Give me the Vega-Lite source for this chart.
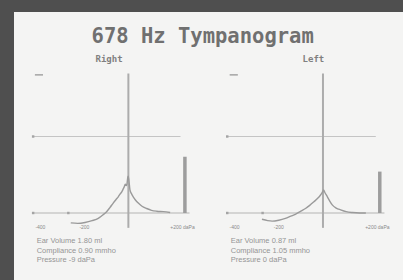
{
  "$schema": "https://vega.github.io/schema/vega-lite/v6.json",
  "background": "#4f4f4f",
  "padding": {"left": 14, "top": 12, "right": 0, "bottom": 0},
  "spacing": 0,
  "config": {
    "view": {"fill": "#f4f4f3", "stroke": null},
    "concat": {"spacing": 0},
    "font": "Liberation Sans"
  },
  "datasets": {
    "ears": [
      {"ear": "Right", "label": "Right", "volume": 1.25, "lines": ["Ear Volume 1.80 ml", "Compliance 0.90 mmho", "Pressure -9 daPa"]},
      {"ear": "Left", "label": "Left", "volume": 0.92, "lines": ["Ear Volume 0.87 ml", "Compliance 1.05 mmho", "Pressure 0 daPa"]}
    ],
    "curves": [
      {"ear": "Right", "pressure": -262, "compliance": -0.22},
      {"ear": "Right", "pressure": -230, "compliance": -0.23},
      {"ear": "Right", "pressure": -197, "compliance": -0.21},
      {"ear": "Right", "pressure": -165, "compliance": -0.17},
      {"ear": "Right", "pressure": -137, "compliance": -0.12},
      {"ear": "Right", "pressure": -115, "compliance": -0.04},
      {"ear": "Right", "pressure": -99, "compliance": 0.03},
      {"ear": "Right", "pressure": -84, "compliance": 0.12},
      {"ear": "Right", "pressure": -69, "compliance": 0.22},
      {"ear": "Right", "pressure": -56, "compliance": 0.3},
      {"ear": "Right", "pressure": -46, "compliance": 0.36},
      {"ear": "Right", "pressure": -38, "compliance": 0.42},
      {"ear": "Right", "pressure": -30, "compliance": 0.47},
      {"ear": "Right", "pressure": -24, "compliance": 0.53},
      {"ear": "Right", "pressure": -19, "compliance": 0.58},
      {"ear": "Right", "pressure": -14, "compliance": 0.64},
      {"ear": "Right", "pressure": -10, "compliance": 0.61},
      {"ear": "Right", "pressure": -7, "compliance": 0.63},
      {"ear": "Right", "pressure": -3, "compliance": 0.78},
      {"ear": "Right", "pressure": -1, "compliance": 0.82},
      {"ear": "Right", "pressure": 3, "compliance": 0.7},
      {"ear": "Right", "pressure": 7, "compliance": 0.52},
      {"ear": "Right", "pressure": 14, "compliance": 0.43},
      {"ear": "Right", "pressure": 22, "compliance": 0.36},
      {"ear": "Right", "pressure": 32, "compliance": 0.29},
      {"ear": "Right", "pressure": 45, "compliance": 0.22},
      {"ear": "Right", "pressure": 62, "compliance": 0.15},
      {"ear": "Right", "pressure": 83, "compliance": 0.1},
      {"ear": "Right", "pressure": 105, "compliance": 0.06},
      {"ear": "Right", "pressure": 129, "compliance": 0.04},
      {"ear": "Right", "pressure": 159, "compliance": 0.03},
      {"ear": "Right", "pressure": 190, "compliance": 0.01},
      {"ear": "Left", "pressure": -276, "compliance": -0.14},
      {"ear": "Left", "pressure": -250, "compliance": -0.17},
      {"ear": "Left", "pressure": -230, "compliance": -0.18},
      {"ear": "Left", "pressure": -200, "compliance": -0.16},
      {"ear": "Left", "pressure": -170, "compliance": -0.12},
      {"ear": "Left", "pressure": -145, "compliance": -0.07},
      {"ear": "Left", "pressure": -125, "compliance": -0.03},
      {"ear": "Left", "pressure": -100, "compliance": 0.04},
      {"ear": "Left", "pressure": -79, "compliance": 0.1},
      {"ear": "Left", "pressure": -60, "compliance": 0.17},
      {"ear": "Left", "pressure": -41, "compliance": 0.25},
      {"ear": "Left", "pressure": -25, "compliance": 0.32},
      {"ear": "Left", "pressure": -11, "compliance": 0.4},
      {"ear": "Left", "pressure": -3, "compliance": 0.46},
      {"ear": "Left", "pressure": 3, "compliance": 0.51},
      {"ear": "Left", "pressure": 8, "compliance": 0.46},
      {"ear": "Left", "pressure": 20, "compliance": 0.36},
      {"ear": "Left", "pressure": 30, "compliance": 0.27},
      {"ear": "Left", "pressure": 42, "compliance": 0.18},
      {"ear": "Left", "pressure": 60, "compliance": 0.11},
      {"ear": "Left", "pressure": 80, "compliance": 0.07},
      {"ear": "Left", "pressure": 105, "compliance": 0.03},
      {"ear": "Left", "pressure": 133, "compliance": 0.01},
      {"ear": "Left", "pressure": 165, "compliance": 0.0},
      {"ear": "Left", "pressure": 194, "compliance": 0.0}
    ],
    "markers": [
      {"pressure": -433, "compliance": 1.7},
      {"pressure": -433, "compliance": 0},
      {"pressure": -273, "compliance": 0}
    ],
    "ticks": [
      {"tick": -400, "label": "-400"},
      {"tick": -200, "label": "-200"},
      {"tick": 200, "label": "+200 daPa"}
    ]
  },
  "vconcat": [
    {
      "width": 389,
      "height": 40,
      "data": {"values": [{"title": "678 Hz Tympanogram"}]},
      "mark": {"type": "text", "font": "DejaVu Sans Mono", "fontWeight": "bold", "fontSize": 20.5, "color": "#707070", "baseline": "alphabetic", "align": "center"},
      "encoding": {
        "x": {"datum": -0.03, "type": "quantitative", "axis": null, "scale": {"domain": [-1, 1], "nice": false, "zero": false}},
        "y": {"datum": 9, "type": "quantitative", "axis": null, "scale": {"domain": [0, 40], "nice": false, "zero": false}},
        "text": {"field": "title", "type": "nominal"}
      }
    },
    {
      "spacing": 0,
      "hconcat": [
        {
          "width": 194,
          "height": 228,
          "data": {"name": "ears"},
          "transform": [{"filter": "datum.ear === 'Right'"}],
          "layer": [
            {"mark": {"type": "rule", "color": "#c4c4c4", "strokeWidth": 1}, "encoding": {"x": {"datum": -433, "type": "quantitative", "axis": null, "scale": {"domain": [-520, 362], "nice": false, "zero": false}}, "x2": {"datum": 237}, "y": {"datum": 1.7, "type": "quantitative", "axis": null, "scale": {"domain": [-1.489, 3.578], "nice": false, "zero": false}}}},
            {"mark": {"type": "rule", "color": "#b4b4b4", "strokeWidth": 1.2}, "encoding": {"x": {"datum": -433, "type": "quantitative", "axis": null, "scale": {"domain": [-520, 362], "nice": false, "zero": false}}, "x2": {"datum": 278}, "y": {"datum": 0, "type": "quantitative", "axis": null, "scale": {"domain": [-1.489, 3.578], "nice": false, "zero": false}}}},
            {"mark": {"type": "rule", "color": "#a4a4a4", "strokeWidth": 1.5}, "encoding": {"x": {"datum": -425, "type": "quantitative", "axis": null, "scale": {"domain": [-520, 362], "nice": false, "zero": false}}, "x2": {"datum": -388}, "y": {"datum": 3.07, "type": "quantitative", "axis": null, "scale": {"domain": [-1.489, 3.578], "nice": false, "zero": false}}}},
            {"mark": {"type": "rule", "color": "#acacac", "strokeWidth": 2}, "encoding": {"x": {"datum": 0, "type": "quantitative", "axis": null, "scale": {"domain": [-520, 362], "nice": false, "zero": false}}, "y": {"datum": -0.33, "type": "quantitative", "axis": null, "scale": {"domain": [-1.489, 3.578], "nice": false, "zero": false}}, "y2": {"datum": 3.1}}},
            {"data": {"name": "markers"}, "mark": {"type": "point", "shape": "square", "filled": true, "color": "#a4a4a4", "size": 6, "opacity": 1}, "encoding": {"x": {"field": "pressure", "type": "quantitative", "axis": null, "scale": {"domain": [-520, 362], "nice": false, "zero": false}}, "y": {"field": "compliance", "type": "quantitative", "axis": null, "scale": {"domain": [-1.489, 3.578], "nice": false, "zero": false}}}},
            {"mark": {"type": "rule", "color": "#9d9d9d", "strokeWidth": 3.5}, "encoding": {"x": {"datum": 257, "type": "quantitative", "axis": null, "scale": {"domain": [-520, 362], "nice": false, "zero": false}}, "y": {"field": "volume", "type": "quantitative", "axis": null, "scale": {"domain": [-1.489, 3.578], "nice": false, "zero": false}}, "y2": {"datum": 0}}},
            {"data": {"name": "curves"}, "transform": [{"filter": "datum.ear === 'Right'"}], "mark": {"type": "line", "color": "#9a9a9a", "strokeWidth": 1.4, "interpolate": "monotone"}, "encoding": {"x": {"field": "pressure", "type": "quantitative", "axis": null, "scale": {"domain": [-520, 362], "nice": false, "zero": false}}, "y": {"field": "compliance", "type": "quantitative", "axis": null, "scale": {"domain": [-1.489, 3.578], "nice": false, "zero": false}}}},
            {"data": {"name": "ticks"}, "transform": [{"filter": "datum.tick < 0"}], "mark": {"type": "text", "fontSize": 5, "color": "#8a8a8a", "align": "center", "baseline": "middle"}, "encoding": {"x": {"field": "tick", "type": "quantitative", "axis": null, "scale": {"domain": [-520, 362], "nice": false, "zero": false}}, "y": {"datum": -0.31, "type": "quantitative", "axis": null, "scale": {"domain": [-1.489, 3.578], "nice": false, "zero": false}}, "text": {"field": "label", "type": "nominal"}}},
            {"data": {"name": "ticks"}, "transform": [{"filter": "datum.tick > 0"}], "mark": {"type": "text", "fontSize": 5, "color": "#8a8a8a", "align": "left", "baseline": "middle", "dx": -2}, "encoding": {"x": {"field": "tick", "type": "quantitative", "axis": null, "scale": {"domain": [-520, 362], "nice": false, "zero": false}}, "y": {"datum": -0.31, "type": "quantitative", "axis": null, "scale": {"domain": [-1.489, 3.578], "nice": false, "zero": false}}, "text": {"field": "label", "type": "nominal"}}},
            {"mark": {"type": "text", "fontSize": 7.5, "color": "#959595", "align": "left", "baseline": "top", "lineHeight": 9.5}, "encoding": {"x": {"datum": -417, "type": "quantitative", "axis": null, "scale": {"domain": [-520, 362], "nice": false, "zero": false}}, "y": {"datum": -0.544, "type": "quantitative", "axis": null, "scale": {"domain": [-1.489, 3.578], "nice": false, "zero": false}}, "text": {"field": "lines", "type": "nominal"}}},
            {"mark": {"type": "text", "font": "DejaVu Sans Mono", "fontWeight": "bold", "fontSize": 9, "color": "#808080", "align": "center", "baseline": "middle"}, "encoding": {"x": {"datum": -88, "type": "quantitative", "axis": null, "scale": {"domain": [-520, 362], "nice": false, "zero": false}}, "y": {"datum": 3.42, "type": "quantitative", "axis": null, "scale": {"domain": [-1.489, 3.578], "nice": false, "zero": false}}, "text": {"field": "label", "type": "nominal"}}}
          ]
        },
        {
          "width": 195,
          "height": 228,
          "data": {"name": "ears"},
          "transform": [{"filter": "datum.ear === 'Left'"}],
          "layer": [
            {"mark": {"type": "rule", "color": "#c4c4c4", "strokeWidth": 1}, "encoding": {"x": {"datum": -433, "type": "quantitative", "axis": null, "scale": {"domain": [-520, 362], "nice": false, "zero": false}}, "x2": {"datum": 239}, "y": {"datum": 1.7, "type": "quantitative", "axis": null, "scale": {"domain": [-1.489, 3.578], "nice": false, "zero": false}}}},
            {"mark": {"type": "rule", "color": "#b4b4b4", "strokeWidth": 1.2}, "encoding": {"x": {"datum": -433, "type": "quantitative", "axis": null, "scale": {"domain": [-520, 362], "nice": false, "zero": false}}, "x2": {"datum": 278}, "y": {"datum": 0, "type": "quantitative", "axis": null, "scale": {"domain": [-1.489, 3.578], "nice": false, "zero": false}}}},
            {"mark": {"type": "rule", "color": "#a4a4a4", "strokeWidth": 1.5}, "encoding": {"x": {"datum": -422, "type": "quantitative", "axis": null, "scale": {"domain": [-520, 362], "nice": false, "zero": false}}, "x2": {"datum": -385}, "y": {"datum": 3.07, "type": "quantitative", "axis": null, "scale": {"domain": [-1.489, 3.578], "nice": false, "zero": false}}}},
            {"mark": {"type": "rule", "color": "#acacac", "strokeWidth": 2}, "encoding": {"x": {"datum": 0, "type": "quantitative", "axis": null, "scale": {"domain": [-520, 362], "nice": false, "zero": false}}, "y": {"datum": -0.33, "type": "quantitative", "axis": null, "scale": {"domain": [-1.489, 3.578], "nice": false, "zero": false}}, "y2": {"datum": 3.1}}},
            {"data": {"name": "markers"}, "mark": {"type": "point", "shape": "square", "filled": true, "color": "#a4a4a4", "size": 6, "opacity": 1}, "encoding": {"x": {"field": "pressure", "type": "quantitative", "axis": null, "scale": {"domain": [-520, 362], "nice": false, "zero": false}}, "y": {"field": "compliance", "type": "quantitative", "axis": null, "scale": {"domain": [-1.489, 3.578], "nice": false, "zero": false}}}},
            {"mark": {"type": "rule", "color": "#9d9d9d", "strokeWidth": 3.5}, "encoding": {"x": {"datum": 257, "type": "quantitative", "axis": null, "scale": {"domain": [-520, 362], "nice": false, "zero": false}}, "y": {"field": "volume", "type": "quantitative", "axis": null, "scale": {"domain": [-1.489, 3.578], "nice": false, "zero": false}}, "y2": {"datum": 0}}},
            {"data": {"name": "curves"}, "transform": [{"filter": "datum.ear === 'Left'"}], "mark": {"type": "line", "color": "#9a9a9a", "strokeWidth": 1.4, "interpolate": "monotone"}, "encoding": {"x": {"field": "pressure", "type": "quantitative", "axis": null, "scale": {"domain": [-520, 362], "nice": false, "zero": false}}, "y": {"field": "compliance", "type": "quantitative", "axis": null, "scale": {"domain": [-1.489, 3.578], "nice": false, "zero": false}}}},
            {"data": {"name": "ticks"}, "transform": [{"filter": "datum.tick < 0"}], "mark": {"type": "text", "fontSize": 5, "color": "#8a8a8a", "align": "center", "baseline": "middle"}, "encoding": {"x": {"field": "tick", "type": "quantitative", "axis": null, "scale": {"domain": [-520, 362], "nice": false, "zero": false}}, "y": {"datum": -0.31, "type": "quantitative", "axis": null, "scale": {"domain": [-1.489, 3.578], "nice": false, "zero": false}}, "text": {"field": "label", "type": "nominal"}}},
            {"data": {"name": "ticks"}, "transform": [{"filter": "datum.tick > 0"}], "mark": {"type": "text", "fontSize": 5, "color": "#8a8a8a", "align": "left", "baseline": "middle", "dx": -2}, "encoding": {"x": {"field": "tick", "type": "quantitative", "axis": null, "scale": {"domain": [-520, 362], "nice": false, "zero": false}}, "y": {"datum": -0.31, "type": "quantitative", "axis": null, "scale": {"domain": [-1.489, 3.578], "nice": false, "zero": false}}, "text": {"field": "label", "type": "nominal"}}},
            {"mark": {"type": "text", "fontSize": 7.5, "color": "#959595", "align": "left", "baseline": "top", "lineHeight": 9.5}, "encoding": {"x": {"datum": -417, "type": "quantitative", "axis": null, "scale": {"domain": [-520, 362], "nice": false, "zero": false}}, "y": {"datum": -0.544, "type": "quantitative", "axis": null, "scale": {"domain": [-1.489, 3.578], "nice": false, "zero": false}}, "text": {"field": "lines", "type": "nominal"}}},
            {"mark": {"type": "text", "font": "DejaVu Sans Mono", "fontWeight": "bold", "fontSize": 9, "color": "#808080", "align": "center", "baseline": "middle"}, "encoding": {"x": {"datum": -43, "type": "quantitative", "axis": null, "scale": {"domain": [-520, 362], "nice": false, "zero": false}}, "y": {"datum": 3.42, "type": "quantitative", "axis": null, "scale": {"domain": [-1.489, 3.578], "nice": false, "zero": false}}, "text": {"field": "label", "type": "nominal"}}}
          ]
        }
      ]
    }
  ]
}
